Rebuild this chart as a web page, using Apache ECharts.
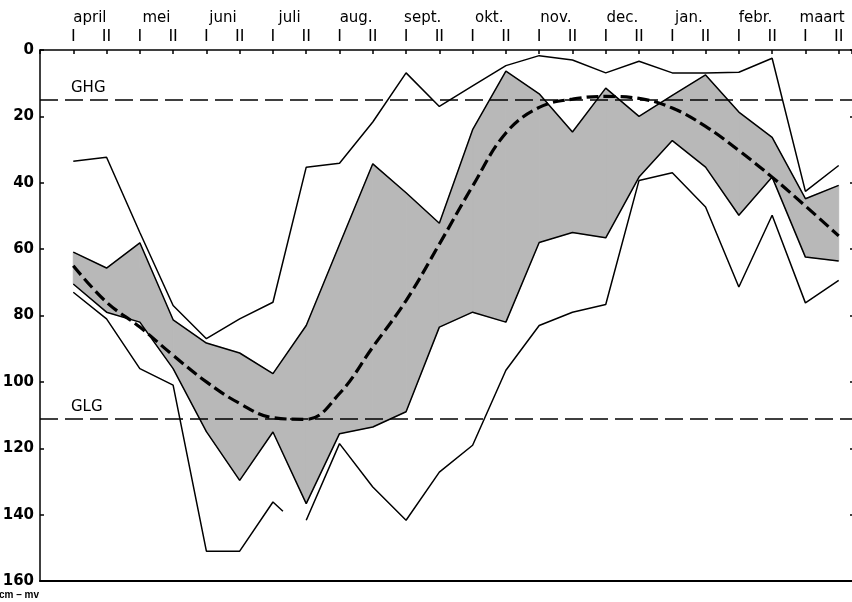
<!DOCTYPE html>
<html>
<head>
<meta charset="utf-8">
<script src="https://cdn.jsdelivr.net/npm/echarts@6/dist/echarts.min.js"></script>
<style>
html, body { margin: 0; padding: 0; background: #fff; }
#chart { width: 852px; height: 602px; }
</style>
</head>
<body>
<div id="chart"></div>
<script>
// x = half-month index: april I = 0, april II = 1, ... maart II = 23
var months = ['april', 'mei', 'juni', 'juli', 'aug.', 'sept.', 'okt.', 'nov.', 'dec.', 'jan.', 'febr.', 'maart'];
var halves = ['I', 'II'];

// depth below surface, cm
var upperEnv   = [33.5, 32.3, 55, 77, 87, 81, 76, 35.3, 34.1, 21.7, 6.9, 17, 10.8, 4.7, 1.7, 3, 6.9, 3.4, 6.9, 6.9, 6.7, 2.5, 42.6, 34.8];
var bandTop    = [60.9, 65.7, 58.1, 81.3, 88.3, 91.3, 97.5, 83, 58.6, 34.3, 43, 52.2, 24, 6.4, 13.2, 24.7, 11.5, 20, 13.7, 7.5, 18.7, 26.3, 44.8, 40.8];
var bandBottom = [70.5, 79, 82, 96, 115, 129.7, 115.1, 136.7, 115.6, 113.6, 109, 83.5, 79, 82, 58, 55, 56.6, 38.3, 27.3, 35.3, 49.8, 38.3, 62.4, 63.6];
var lowerEnv   = [73, 81, 96, 101, 151, 151, 136.2, 141.7, 118.6, 131.7, 141.7, 127.2, 119.1, 96.5, 83, 79, 76.7, 39.3, 37, 47.3, 71.4, 49.8, 76.2, 69.4];
var lowerStub  = [6.3, 139];   // lower line stops here, picks up again at juli II
var meanCurve  = [65, 76, 83.5, 92, 100, 106.5, 110.8, 111.3, 103.5, 89.5, 75.5, 58.5, 41, 25, 17.3, 14.8, 14, 14.6, 17.5, 23, 30.3, 38.3, 47, 56];
var ghg = 15, glg = 111;

function pts(arr) {
  return arr.map(function (v, i) { return [i, v]; });
}

// one quad per half-month step: [i, top, bottom, next top, next bottom]
var bandSegs = bandTop.slice(0, -1).map(function (t, i) {
  return [i, t, bandBottom[i], bandTop[i + 1], bandBottom[i + 1]];
});

var font = 'DejaVu Sans';
var thin = { color: '#000', width: 1.5 };
var shade = '#b8b8b8';
var xMin = -1, xMax = 23.4;

var lowPts = pts(lowerEnv);

echarts.init(document.getElementById('chart')).setOption({
  backgroundColor: '#fff',
  animation: false,
  grid: { left: 40, right: 0, top: 50, bottom: 21, outerBoundsMode: 'none' },
  xAxis: [
    {
      type: 'value', position: 'top', min: xMin, max: xMax, interval: 1,
      axisLine: { onZero: false, lineStyle: { color: '#000', width: 1.5 } },
      axisTick: { inside: true, length: 4, lineStyle: { color: '#000', width: 1.5 } },
      axisLabel: {
        margin: 5, color: '#000', fontFamily: font, fontSize: 16,
        formatter: function (v) {
          if (v < 0 || v % 1 !== 0) return '';
          return halves[v % 2];
        }
      },
      splitLine: { show: false }
    },
    {
      type: 'value', position: 'top', min: xMin, max: xMax, interval: 0.5, offset: 24,
      axisLine: { show: false }, axisTick: { show: false }, splitLine: { show: false },
      axisLabel: {
        margin: 0, color: '#000', fontFamily: font, fontSize: 15,
        formatter: function (v) {
          var k = v - 0.5;
          if (k >= 0 && k % 2 === 0) return months[k / 2];
          return '';
        }
      }
    },
    {
      type: 'value', position: 'bottom', min: xMin, max: xMax,
      axisLine: { onZero: false, lineStyle: { color: '#000', width: 2 } },
      axisTick: { show: false }, axisLabel: { show: false }, splitLine: { show: false }
    }
  ],
  yAxis: [
    {
      type: 'value', inverse: true, min: 0, max: 160, interval: 20,
      axisLine: { show: true, onZero: false, lineStyle: { color: '#000', width: 1.5 } },
      axisTick: { show: true, inside: true, length: 4, lineStyle: { color: '#000', width: 1.5 } },
      axisLabel: { margin: 6, color: '#000', fontFamily: font, fontSize: 15, fontWeight: 'bold' },
      splitLine: { show: false },
      name: 'cm – mv', nameLocation: 'end', nameGap: 9,
      nameTextStyle: { color: '#000', fontFamily: 'Liberation Sans', fontSize: 10, fontWeight: 'bold', align: 'right', verticalAlign: 'top', padding: [0, 1, 0, 0] }
    },
    {
      type: 'value', position: 'right', inverse: true, min: 0, max: 160, interval: 20,
      axisLine: { show: false, onZero: false },
      axisTick: { show: true, inside: true, length: 2, lineStyle: { color: '#000', width: 1.5 } },
      axisLabel: { show: false }, splitLine: { show: false }
    }
  ],
  series: [
    {
      name: 'band fill', type: 'custom', silent: true, z: 1,
      data: bandSegs,
      encode: { x: 0, y: [1, 2] },
      renderItem: function (params, api) {
        var i = api.value(0);
        var p = [
          api.coord([i, api.value(1)]),
          api.coord([i + 1, api.value(3)]),
          api.coord([i + 1, api.value(4)]),
          api.coord([i, api.value(2)])
        ];
        return { type: 'polygon', shape: { points: p }, style: { fill: shade, stroke: shade, lineWidth: 1 } };
      }
    },
    {
      name: 'band top', type: 'line', symbol: 'none', z: 2,
      data: pts(bandTop), lineStyle: thin,
      markLine: {
        silent: true, symbol: 'none',
        lineStyle: { color: '#000', width: 1.5, type: [18, 7] },
        label: {
          position: 'insideStartTop', distance: [31, 4], formatter: '{b}',
          color: '#000', fontFamily: font, fontSize: 15
        },
        data: [{ name: 'GHG', yAxis: ghg }, { name: 'GLG', yAxis: glg }]
      }
    },
    {
      name: 'band bottom', type: 'line', symbol: 'none', z: 2,
      data: pts(bandBottom), lineStyle: thin
    },
    {
      name: 'upper', type: 'line', symbol: 'none', z: 3,
      data: pts(upperEnv), lineStyle: thin
    },
    {
      name: 'lower', type: 'line', symbol: 'none', z: 3,
      data: lowPts.slice(0, 7).concat([lowerStub]), lineStyle: thin
    },
    {
      name: 'lower2', type: 'line', symbol: 'none', z: 3,
      data: lowPts.slice(7), lineStyle: thin
    },
    {
      name: 'mean', type: 'line', symbol: 'none', smooth: 0.4, z: 4,
      data: pts(meanCurve),
      lineStyle: { color: '#000', width: 3.2, type: [12, 5] }
    }
  ]
});
</script>
</body>
</html>
